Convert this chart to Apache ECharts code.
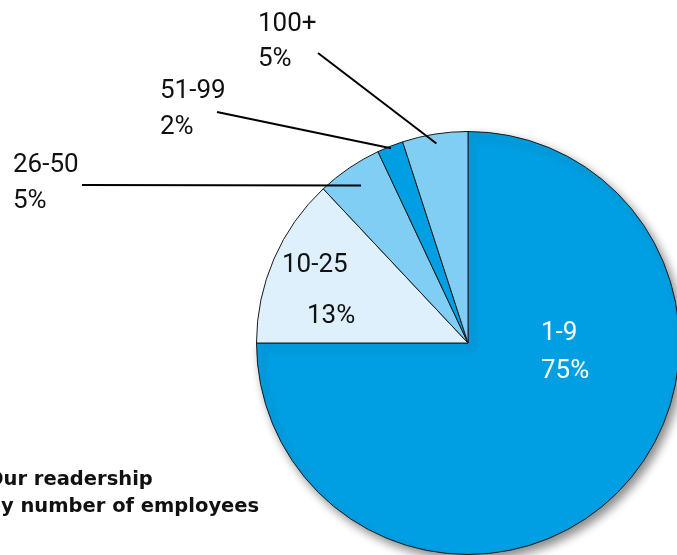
<!DOCTYPE html>
<html>
<head>
<meta charset="utf-8">
<script src="https://cdn.jsdelivr.net/npm/echarts@6/dist/echarts.min.js"></script>
<style>
html,body{margin:0;padding:0;background:#fff;}
#chart{width:677px;height:555px;}
</style>
</head>
<body>
<div id="chart"></div>
<script>
// ---- data ----
const categories = ['1-9', '10-25', '26-50', '51-99', '100+'];
const shares = [75, 13, 5, 2, 5];
const sliceColors = ['#009FE3', '#DEF0FC', '#80CEF4', '#009FE3', '#80CEF4'];
const titleLines = ['Our readership', 'by number of employees'];

// ---- layout ----
const CX = 468, CY = 343, R = 211.5;
const labelPlace = {
  '1-9':   { x: 541, y: 314, lh: 38, color: '#ffffff' },
  '10-25': { x: 282, y: 240, lh: 51, color: '#111111', pad: 25 },
  '26-50': { x: 13,  y: 147, lh: 36, color: '#111111', lineEnd: [82, 185], depth: 0.90 },
  '51-99': { x: 160, y: 73,  lh: 36, color: '#111111', lineEnd: [217, 112], depth: 0.99 },
  '100+':  { x: 258, y: 6.5, lh: 35, color: '#111111', lineEnd: [318, 53], depth: 0.955 }
};

const total = shares.reduce((a, b) => a + b, 0);
function midPoint(i, frac) {
  let cum = 0;
  for (let k = 0; k < i; k++) cum += shares[k];
  const th = (cum + shares[i] / 2) / total * 2 * Math.PI;
  return [CX + R * frac * Math.sin(th), CY - R * frac * Math.cos(th)];
}

const data = categories.map((name, i) => {
  const p = labelPlace[name];
  const item = {
    name: name,
    value: shares[i],
    itemStyle: { color: sliceColors[i] },
    label: { color: p.color, lineHeight: p.lh }
  };
  if (i === 0) {
    item.itemStyle.shadowBlur = 10;
    item.itemStyle.shadowColor = 'rgba(0,0,0,0.45)';
    item.itemStyle.shadowOffsetX = 4;
    item.itemStyle.shadowOffsetY = 5;
  }
  if (p.pad) {
    item.label.formatter = '{a|{b}}\n{p|{d}%}';
    item.label.rich = {
      a: { fontSize: 26, fontFamily: 'Roboto', color: p.color, lineHeight: p.lh },
      p: { fontSize: 26, fontFamily: 'Roboto', color: p.color, lineHeight: p.lh, padding: [0, 0, 0, p.pad] }
    };
  }
  return item;
});

// leader lines: from inside the slice (at its mid angle) out to the label
const leaders = [];
categories.forEach((name, i) => {
  const p = labelPlace[name];
  if (!p.lineEnd) return;
  const inner = midPoint(i, p.depth);
  leaders.push({
    type: 'line',
    z: 100,
    silent: true,
    shape: { x1: inner[0], y1: inner[1], x2: p.lineEnd[0], y2: p.lineEnd[1] },
    style: { stroke: '#000000', lineWidth: 2 }
  });
});

const chart = echarts.init(document.getElementById('chart'), null, { renderer: 'canvas' });
chart.setOption({
  animation: false,
  backgroundColor: '#ffffff',
  graphic: [{
    type: 'text',
    left: -13,
    top: 466,
    style: {
      text: titleLines.join('\n'),
      font: 'bold 19.5px "DejaVu Sans"',
      lineHeight: 27,
      fill: '#111111'
    }
  }].concat(leaders),
  series: [{
    type: 'pie',
    center: [CX, CY],
    radius: R,
    startAngle: 90,
    clockwise: true,
    silent: true,
    avoidLabelOverlap: false,
    itemStyle: { borderColor: '#1a1a1a', borderWidth: 1 },
    label: {
      show: true,
      position: 'inside',
      formatter: '{b}\n{d}%',
      fontFamily: 'Roboto',
      fontSize: 26,
      color: '#111111'
    },
    labelLine: { show: false },
    labelLayout: function (params) {
      const p = labelPlace[categories[params.dataIndex]];
      return { x: p.x, y: p.y, align: 'left', verticalAlign: 'top' };
    },
    data: data
  }]
});
</script>
</body>
</html>
